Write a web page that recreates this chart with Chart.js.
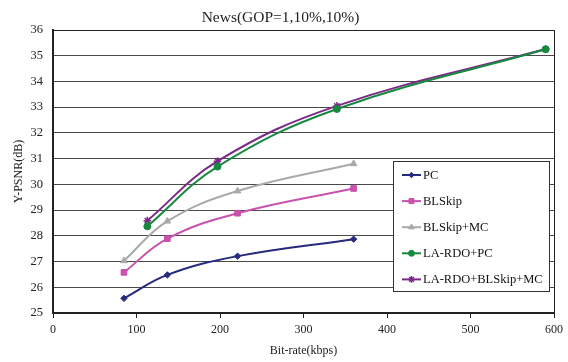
<!DOCTYPE html>
<html>
<head>
<meta charset="utf-8">
<title>News rate-distortion</title>
<script src="https://cdn.jsdelivr.net/npm/chart.js@4.4.0/dist/chart.umd.min.js"></script>
<style>
  html, body { margin: 0; padding: 0; background: #fff; }
  #wrap { width: 568px; height: 362px; position: relative; }
</style>
</head>
<body>
<div id="wrap"><canvas id="rdChart"></canvas></div>
<script>
// bit-rates (kbps) of the two encoder groups
const rateBase = [85, 137, 221, 360];
const rateLA = [113, 197, 340, 590];

// Y-PSNR (dB) per method
const psnrPC = [25.57, 26.48, 27.21, 27.87];
const psnrBLSkip = [26.58, 27.89, 28.88, 29.84];
const psnrBLSkipMC = [27.03, 28.57, 29.74, 30.80];
const psnrLAPC = [28.37, 30.69, 32.93, 35.25];
const psnrLABLSkipMC = [28.59, 30.90, 33.05, 35.26];

const seriesNames = ['PC', 'BLSkip', 'BLSkip+MC', 'LA-RDO+PC', 'LA-RDO+BLSkip+MC'];

const SERIF = '"Liberation Serif", "Times New Roman", serif';

function points(xs, ys) {
  return xs.map((x, i) => ({ x: x, y: ys[i] }));
}

function series(label, data, color, style, radius) {
  return {
    label: label,
    data: data,
    borderColor: color,
    backgroundColor: color,
    borderWidth: 2,
    pointStyle: style,
    pointRadius: radius,
    pointHoverRadius: radius,
    pointBorderWidth: style === 'star' ? 1.5 : 1,
    tension: 0.4,
    fill: false
  };
}

// frame round the plot area plus the boxed legend inside it
const framePlugin = {
  id: 'frame',
  afterDraw(chart) {
    const { ctx, chartArea: a } = chart;
    ctx.save();
    ctx.strokeStyle = '#222';
    ctx.lineWidth = 1;
    ctx.strokeRect(a.left + 0.5, a.top + 0.5, a.right - a.left, a.bottom - a.top);
    ctx.lineWidth = 2;
    ctx.beginPath();
    ctx.moveTo(a.left, a.top);
    ctx.lineTo(a.left, a.bottom);
    ctx.lineTo(a.right, a.bottom);
    ctx.stroke();

    // legend box
    const box = { x: 393.5, y: 161.5, w: 156, h: 130 };
    ctx.fillStyle = '#fff';
    ctx.fillRect(box.x, box.y, box.w, box.h);
    ctx.lineWidth = 1;
    ctx.strokeStyle = '#333';
    ctx.strokeRect(box.x, box.y, box.w, box.h);

    ctx.font = '12.5px ' + SERIF;
    ctx.textBaseline = 'middle';
    ctx.textAlign = 'left';
    chart.data.datasets.forEach((ds, i) => {
      const y = 175 + i * 26.1;
      ctx.strokeStyle = ds.borderColor;
      ctx.fillStyle = ds.backgroundColor;
      ctx.lineWidth = 2;
      ctx.beginPath();
      ctx.moveTo(402, y);
      ctx.lineTo(421, y);
      ctx.stroke();
      ctx.lineWidth = ds.pointBorderWidth;
      Chart.helpers.drawPoint(ctx, {
        pointStyle: ds.pointStyle,
        radius: ds.pointRadius - 0.5,
        rotation: 0,
        borderWidth: ds.pointBorderWidth
      }, 411.5, y);
      ctx.fillStyle = '#111';
      ctx.fillText(ds.label, 423, y + 0.5);
    });
    ctx.restore();
  }
};

const ctx = document.getElementById('rdChart');
new Chart(ctx, {
  type: 'line',
  data: {
    datasets: [
      series(seriesNames[0], points(rateBase, psnrPC), '#252A7C', 'rectRot', 3.2),
      series(seriesNames[1], points(rateBase, psnrBLSkip), '#C852AC', 'rect', 4),
      series(seriesNames[2], points(rateBase, psnrBLSkipMC), '#A9A9A9', 'triangle', 3.8),
      series(seriesNames[3], points(rateLA, psnrLAPC), '#17893F', 'circle', 3.5),
      series(seriesNames[4], points(rateLA, psnrLABLSkipMC), '#7C2A88', 'star', 3.8)
    ]
  },
  options: {
    responsive: true,
    maintainAspectRatio: false,
    animation: false,
    devicePixelRatio: 1,
    layout: { padding: { left: 0, right: 7, top: 0, bottom: 0 } },
    plugins: {
      legend: { display: false },
      tooltip: { enabled: false },
      title: {
        display: true,
        text: 'News(GOP=1,10%,10%)',
        color: '#222',
        font: { family: SERIF, size: 15.5, weight: 'normal' },
        padding: { top: 9, bottom: 2.4 }
      }
    },
    scales: {
      x: {
        type: 'linear',
        min: 0,
        max: 600,
        afterFit: s => { s.height = 49; },
        ticks: {
          stepSize: 100,
          color: '#222',
          padding: 5,
          maxRotation: 0,
          font: { family: SERIF, size: 12 }
        },
        grid: { drawOnChartArea: false, drawTicks: true, tickLength: 5, color: '#222' },
        border: { display: true, color: '#222', width: 2 },
        title: {
          display: true,
          text: 'Bit-rate(kbps)',
          color: '#222',
          font: { family: SERIF, size: 12 },
          padding: 4
        }
      },
      y: {
        min: 25,
        max: 36,
        afterFit: s => { s.width = 53; },
        ticks: {
          stepSize: 1,
          color: '#222',
          padding: 10,
          font: { family: SERIF, size: 12.5 }
        },
        grid: { color: '#4a4a4a', lineWidth: 1, drawTicks: false },
        border: { display: true, color: '#222', width: 2 },
        title: {
          display: true,
          text: 'Y-PSNR(dB)',
          color: '#222',
          font: { family: SERIF, size: 12 },
          padding: 12
        }
      }
    }
  },
  plugins: [framePlugin]
});
</script>
</body>
</html>
